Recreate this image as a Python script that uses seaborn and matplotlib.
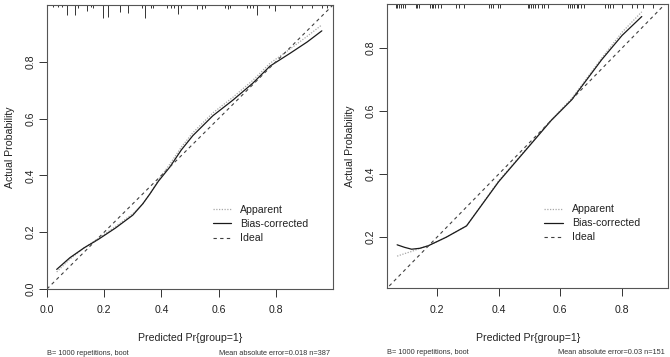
import numpy as np
import pandas as pd
import matplotlib
matplotlib.use("Agg")
import matplotlib.pyplot as plt
import seaborn as sns

sns.set_theme(style="white")
plt.rcParams['font.family'] = ['Liberation Sans', 'DejaVu Sans']

# ---------------- data ----------------
# Left panel (n=387)
left_x = [0.034, 0.08, 0.13, 0.18, 0.24, 0.30, 0.335, 0.36, 0.39, 0.43, 0.47, 0.51, 0.58, 0.65, 0.72, 0.78, 0.85, 0.91, 0.961]
left_bias = [0.069, 0.11, 0.145, 0.175, 0.215, 0.26, 0.30, 0.335, 0.38, 0.43, 0.49, 0.54, 0.61, 0.665, 0.725, 0.785, 0.83, 0.87, 0.909]
left_app = [0.06, 0.105, 0.145, 0.178, 0.22, 0.265, 0.30, 0.335, 0.385, 0.44, 0.50, 0.55, 0.62, 0.675, 0.735, 0.795, 0.845, 0.89, 0.93]
left_rug_x = [0.022, 0.040, 0.051, 0.070, 0.099, 0.107, 0.140, 0.154, 0.160, 0.196, 0.215, 0.257, 0.283,
              0.331, 0.341, 0.362, 0.371, 0.419, 0.433, 0.444, 0.458, 0.468, 0.523, 0.542, 0.554, 0.622,
              0.632, 0.640, 0.700, 0.710, 0.719, 0.733, 0.778, 0.798, 0.850, 0.891, 0.926, 0.961, 0.979]
left_rug_n = [2, 2, 2, 10, 10, 3, 6, 2, 3, 13, 12, 7, 8,
              3, 13, 3, 3, 3, 3, 3, 9, 3, 4, 4, 3, 3,
              4, 3, 3, 3, 3, 10, 3, 6, 3, 3, 3, 3, 3]

# Right panel (n=151)
right_x = [0.071, 0.095, 0.118, 0.145, 0.172, 0.23, 0.296, 0.40, 0.507, 0.57, 0.637, 0.734, 0.80, 0.864]
right_bias = [0.176, 0.168, 0.162, 0.165, 0.173, 0.20, 0.236, 0.376, 0.498, 0.57, 0.636, 0.763, 0.84, 0.90]
right_app = [0.14, 0.148, 0.155, 0.165, 0.173, 0.20, 0.236, 0.379, 0.50, 0.572, 0.64, 0.768, 0.85, 0.915]
right_rug_x = [0.067, 0.072, 0.078, 0.083, 0.091, 0.096, 0.132, 0.136, 0.142, 0.177, 0.183, 0.188, 0.193,
               0.205, 0.213, 0.263, 0.272, 0.288, 0.368, 0.375, 0.383, 0.397, 0.405, 0.494, 0.499, 0.505,
               0.512, 0.518, 0.528, 0.539, 0.548, 0.561, 0.626, 0.632, 0.638, 0.645, 0.653, 0.658, 0.667,
               0.678, 0.745, 0.753, 0.762, 0.771, 0.801, 0.831, 0.847, 0.869, 0.901]

x_ticks = [0.0, 0.2, 0.4, 0.6, 0.8]
y_ticks = [0.0, 0.2, 0.4, 0.6, 0.8]
x_label = "Predicted Pr{group=1}"
y_label = "Actual Probability"
left_sub = ["B= 1000 repetitions, boot", "Mean absolute error=0.018 n=387"]
right_sub = ["B= 1000 repetitions, boot", "Mean absolute error=0.03 n=151"]
legend_labels = ["Apparent", "Bias-corrected", "Ideal"]

# ---------------- figure ----------------
fig = plt.figure(figsize=(6.7, 3.57), dpi=100)
axL = fig.add_axes([0.0701, 0.1905, 0.4269, 0.7955])
axR = fig.add_axes([0.578, 0.1924, 0.419, 0.7966])

FS = 7.6


def panel(ax, xs, bias, app, xlim, ylim, rug_x, rug_h, sub, leg_anchor, show_ticks):
    df = pd.DataFrame({"x": xs, "bias": bias, "app": app})
    ideal = pd.DataFrame({"x": [0.0, 1.0], "y": [0.0, 1.0]})
    sns.lineplot(data=df, x="x", y="app", ax=ax, color="#a8a8a8", lw=0.9,
                 linestyle=(0, (1, 1.2)), label=legend_labels[0], sort=False)
    sns.lineplot(data=df, x="x", y="bias", ax=ax, color="#1a1a1a", lw=0.9,
                 label=legend_labels[1], sort=False)
    sns.lineplot(data=ideal, x="x", y="y", ax=ax, color="#404040", lw=0.8,
                 linestyle=(0, (3, 3)), label=legend_labels[2])
    ax.set_xlim(*xlim)
    ax.set_ylim(*ylim)
    top = ylim[1]
    ax.vlines(rug_x, [top - h for h in rug_h], top, color="#333333", lw=0.7)
    ax.set_xticks(show_ticks[0])
    ax.set_yticks(show_ticks[1])
    ax.set_xticklabels([f"{v:.1f}" for v in show_ticks[0]])
    ax.set_yticklabels([f"{v:.1f}" for v in show_ticks[1]], rotation=90, va="center")
    ax.tick_params(axis="both", direction="out", length=5.8, width=0.7, color="#333333",
                   labelsize=FS, labelcolor="#222222", bottom=True, left=True)
    ax.tick_params(axis="x", pad=6)
    ax.tick_params(axis="y", pad=2.5)
    for s in ax.spines.values():
        s.set_color("#555555")
        s.set_linewidth(0.8)
    ax.set_xlabel(x_label, fontsize=FS, color="#222222", labelpad=13)
    ax.set_ylabel(y_label, fontsize=FS, color="#222222", labelpad=7.5)
    leg = ax.legend(loc="upper left", bbox_to_anchor=leg_anchor, frameon=False,
                    fontsize=FS, handlelength=1.75, handletextpad=0.85,
                    labelspacing=0.38, borderaxespad=0)
    for t in leg.get_texts():
        t.set_color("#222222")
    ax.text(0.0, -0.227, sub[0], transform=ax.transAxes, fontsize=5.3,
            ha="left", va="center", color="#333333")
    ax.text(0.99, -0.227, sub[1], transform=ax.transAxes, fontsize=5.3,
            ha="right", va="center", color="#333333")


panel(axL, left_x, left_bias, left_app, (0.0, 1.0), (0.0, 1.0),
      left_rug_x, [n / 285 for n in left_rug_n], left_sub, (0.565, 0.31),
      (x_ticks, y_ticks))
panel(axR, right_x, right_bias, right_app, (0.039, 0.949), (0.038, 0.94),
      right_rug_x, [5 / 315 * 0.902] * len(right_rug_x), right_sub, (0.545, 0.31),
      (x_ticks[1:], y_ticks[1:]))

fig.savefig("out.png", dpi=100, facecolor="white")
